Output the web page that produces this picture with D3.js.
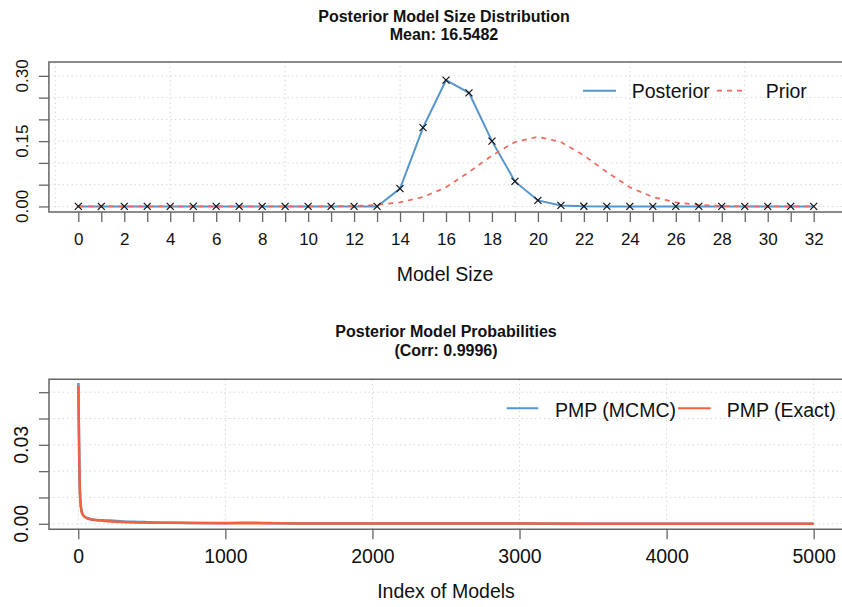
<!DOCTYPE html>
<html>
<head>
<meta charset="utf-8">
<script src="https://cdn.jsdelivr.net/npm/d3@7"></script>
<style>
  body { margin: 0; background: #fff; }
  text { font-family: "Liberation Sans", Arial, sans-serif; fill: #111; }
</style>
</head>
<body>
<script>
// ---- data ----
var modelSizes = d3.range(0, 33);
var posterior = [0,0,0,0,0,0,0,0,0,0,0,0,0,0,
  0.041,0.181,0.290,0.261,0.150,0.0575,0.0138,0.0023,0.0004,0.0001,
  0,0,0,0,0,0,0,0,0];
var prior = [0,0,0,0,0,0,0,0,0,0,0,0.0003,0.001,0.0035,0.0095,0.0215,0.044,0.079,0.117,0.148,
  0.160,0.148,0.117,0.079,0.044,0.0215,0.0095,0.0035,0.001,0.0003,0,0,0];
var sizeTicks = d3.range(0, 33);
var sizeLabels = d3.range(0, 33, 2);
var sizeGrid = [-1, 4, 9, 14, 19, 24, 29];
var probTicks = [0, 0.05, 0.10, 0.15, 0.20, 0.25, 0.30];
var probLabels = [0, 0.15, 0.30];

// model index vs PMP (anchor points)
var exactIdx = [1, 3, 5, 7, 9, 12, 16, 20, 25, 30, 40, 50, 70, 100, 150, 200, 300, 400, 600, 800, 1000, 1500, 2000, 3000, 4000, 5000];
var exactPmp = [0.0525, 0.0420, 0.0330, 0.0240, 0.0170, 0.0110, 0.0075, 0.0055, 0.0042, 0.0035, 0.0028, 0.0024, 0.0019, 0.0015, 0.0012, 0.0010, 0.0007, 0.0005, 0.0004, 0.0003, 0.0002, 0.00015, 0.0001, 0.00006, 0.00004, 0.00003];
var mcmcIdx = [1, 3, 5, 7, 9, 12, 16, 20, 25, 30, 40, 50, 70, 100, 150, 220, 300, 400, 470, 600, 800, 1030, 1150, 1260, 1500, 2000, 3000, 4000, 5000];
var mcmcPmp = [0.0535, 0.0425, 0.0330, 0.0245, 0.0170, 0.0112, 0.0076, 0.0056, 0.0043, 0.0035, 0.0029, 0.0025, 0.0020, 0.0016, 0.0013, 0.0012, 0.0009, 0.0007, 0.0006, 0.0004, 0.0003, 0.0003, 0.0004, 0.0003, 0.00015, 0.0001, 0.00006, 0.00004, 0.00003];
var indexTicks = [0, 1000, 2000, 3000, 4000, 5000];
var pmpTicks = [0, 0.01, 0.02, 0.03, 0.04, 0.05];
var pmpLabels = [0, 0.03];

var blue = "#5596cf", red = "#f4685d", orange = "#f2603f";
var W = 842, H = 607;

var svg = d3.select("body").append("svg").attr("width", W).attr("height", H);

function panel(x, y, cfg) {
  var g = svg.append("g");
  // grid
  g.selectAll(".gx").data(cfg.gridX).enter().append("line")
    .attr("y1", y.range()[1]).attr("y2", y.range()[0])
    .attr("x1", function(d){ return x(d); }).attr("x2", function(d){ return x(d); })
    .attr("stroke", "#d8d8d8").attr("stroke-dasharray", "1.5,3");
  g.selectAll(".gy").data(cfg.yTicks).enter().append("line")
    .attr("x1", x.range()[0]).attr("x2", x.range()[1])
    .attr("y1", function(d){ return y(d); }).attr("y2", function(d){ return y(d); })
    .attr("stroke", "#d8d8d8").attr("stroke-dasharray", "1.5,3");

  // axes
  var xa = g.append("g").attr("transform", "translate(0," + y.range()[0] + ")")
    .call(d3.axisBottom(x).tickValues(cfg.xTicks).tickSize(10)
      .tickFormat(function(d){ return cfg.xLabels.indexOf(d) >= 0 ? d : ""; }));
  xa.select(".domain").remove();
  xa.selectAll("line").attr("stroke", "#666").attr("stroke-width", 1.3);
  xa.selectAll("text").attr("font-size", cfg.tickFont).attr("fill", "#111")
    .attr("y", cfg.xLabelDy).attr("dy", 0)
    .style("font-family", "Liberation Sans, Arial, sans-serif");

  var ya = g.append("g").attr("transform", "translate(" + x.range()[0] + ",0)")
    .call(d3.axisLeft(y).tickValues(cfg.yTicks).tickSize(10).tickFormat(function(d){ return ""; }));
  ya.select(".domain").remove();
  ya.selectAll("line").attr("stroke", "#666").attr("stroke-width", 1.3);
  g.selectAll(".yl").data(cfg.yLabels).enter().append("text")
    .attr("transform", function(d){ return "translate(28.3," + y(d) + ") rotate(-90)"; })
    .attr("text-anchor", "middle").attr("font-size", cfg.yFont)
    .text(d3.format(".2f"));

  // box
  g.append("path")
    .attr("d", "M" + (x.range()[1] + 5) + "," + y.range()[1] + "H" + x.range()[0] +
      "V" + y.range()[0] + "H" + (x.range()[1] + 5))
    .attr("fill", "none").attr("stroke", "#666").attr("stroke-width", 1.5);
  return g;
}

// ---------- top panel ----------
var x1 = d3.scaleLinear().domain([-1.28, 33.28]).range([48.9, 843.1]);
var y1 = d3.scaleLinear().domain([-0.0128, 0.3318]).range([212, 62]);
var g1 = panel(x1, y1, { gridX: sizeGrid, yTicks: probTicks, xTicks: sizeTicks, xLabels: sizeLabels,
  yLabels: probLabels, tickFont: 17, yFont: 17, xLabelDy: 33 });

var line1 = d3.line().x(function(d, i){ return x1(modelSizes[i]); }).y(function(d){ return y1(d); });
g1.append("path").datum(posterior).attr("d", line1)
  .attr("fill", "none").attr("stroke", blue).attr("stroke-width", 2);
g1.append("path").datum(prior).attr("d", line1)
  .attr("fill", "none").attr("stroke", red).attr("stroke-width", 1.7).attr("stroke-dasharray", "5,5");
g1.selectAll(".mk").data(posterior).enter().append("path")
  .attr("d", function(d, i){
    var cx = x1(modelSizes[i]), cy = y1(d), s = 3.5;
    return "M" + (cx - s) + "," + (cy - s) + "L" + (cx + s) + "," + (cy + s) +
      "M" + (cx - s) + "," + (cy + s) + "L" + (cx + s) + "," + (cy - s);
  })
  .attr("stroke", "#111").attr("stroke-width", 1.2);

svg.append("text").attr("x", 444).attr("y", 21.5).attr("text-anchor", "middle")
  .attr("font-size", 16).attr("font-weight", "bold").text("Posterior Model Size Distribution");
svg.append("text").attr("x", 444).attr("y", 40).attr("text-anchor", "middle")
  .attr("font-size", 16).attr("font-weight", "bold").text("Mean: 16.5482");
svg.append("text").attr("x", 445).attr("y", 281).attr("text-anchor", "middle")
  .attr("font-size", 19.5).text("Model Size");

// legend top
svg.append("line").attr("x1", 583).attr("x2", 616).attr("y1", 90.7).attr("y2", 90.7)
  .attr("stroke", blue).attr("stroke-width", 2);
svg.append("text").attr("x", 631.7).attr("y", 98.3).attr("font-size", 19.5).text("Posterior");
svg.append("line").attr("x1", 717).attr("x2", 745).attr("y1", 90.7).attr("y2", 90.7)
  .attr("stroke", red).attr("stroke-width", 1.7).attr("stroke-dasharray", "5,5");
svg.append("text").attr("x", 765.7).attr("y", 98.3).attr("font-size", 19.5).text("Prior");

// ---------- bottom panel ----------
var x2 = d3.scaleLinear().domain([-198.96, 5199.96]).range([49.0, 843.1]);
var y2 = d3.scaleLinear().domain([-0.0021, 0.0549]).range([529.3, 379.3]);
var g2 = panel(x2, y2, { gridX: indexTicks, yTicks: pmpTicks, xTicks: indexTicks, xLabels: indexTicks,
  yLabels: pmpLabels, tickFont: 19.5, yFont: 19.5, xLabelDy: 33.5 });

var line2 = d3.line().curve(d3.curveMonotoneX)
  .x(function(d){ return x2(d[0]); }).y(function(d){ return y2(d[1]); });
g2.append("path").datum(d3.zip(mcmcIdx, mcmcPmp)).attr("d", line2)
  .attr("fill", "none").attr("stroke", blue).attr("stroke-width", 2.5);
g2.append("path").datum(d3.zip(exactIdx, exactPmp)).attr("d", line2)
  .attr("fill", "none").attr("stroke", orange).attr("stroke-width", 2.5);

svg.append("text").attr("x", 446).attr("y", 337).attr("text-anchor", "middle")
  .attr("font-size", 16).attr("font-weight", "bold")
  .text("Posterior Model Probabilities");
svg.append("text").attr("x", 446).attr("y", 356).attr("text-anchor", "middle")
  .attr("font-size", 16).attr("font-weight", "bold")
  .text("(Corr: 0.9996)");
svg.append("text").attr("x", 446).attr("y", 598).attr("text-anchor", "middle")
  .attr("font-size", 19.5).text("Index of Models");

// legend bottom
svg.append("line").attr("x1", 506.7).attr("x2", 538.3).attr("y1", 408.3).attr("y2", 408.3)
  .attr("stroke", blue).attr("stroke-width", 2);
svg.append("text").attr("x", 555).attr("y", 416.7).attr("font-size", 19.5).text("PMP (MCMC)");
svg.append("line").attr("x1", 678).attr("x2", 710.7).attr("y1", 408.3).attr("y2", 408.3)
  .attr("stroke", orange).attr("stroke-width", 2);
svg.append("text").attr("x", 726.7).attr("y", 416.7).attr("font-size", 19.5).text("PMP (Exact)");
</script>
</body>
</html>
